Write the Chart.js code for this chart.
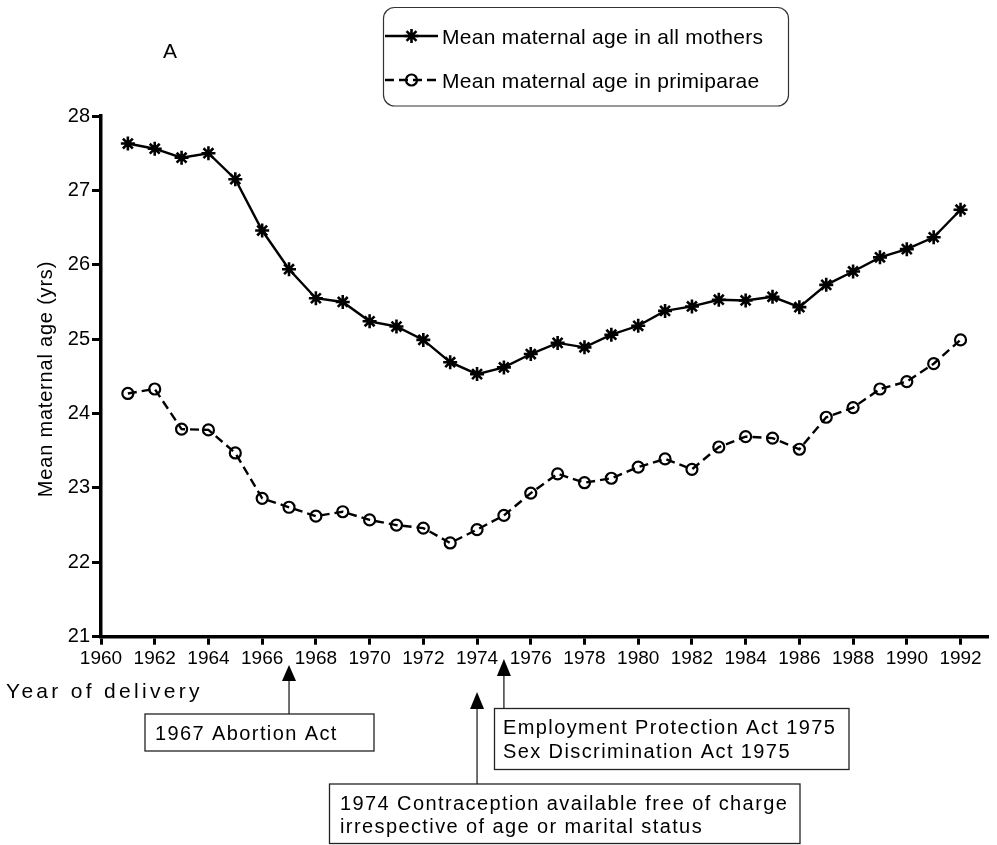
<!DOCTYPE html>
<html>
<head>
<meta charset="utf-8">
<script src="https://cdn.jsdelivr.net/npm/chart.js@4.4.1/dist/chart.umd.min.js"></script>
<style>
  html, body { margin: 0; padding: 0; background: #fff; }
  #wrap { width: 997px; height: 845px; }
</style>
</head>
<body>
<div id="wrap"><canvas id="myChart" width="997" height="845"></canvas></div>
<script>
// data (mean maternal age, years)
var years = [1961, 1962, 1963, 1964, 1965, 1966, 1967, 1968, 1969, 1970, 1971, 1972, 1973, 1974, 1975, 1976,
             1977, 1978, 1979, 1980, 1981, 1982, 1983, 1984, 1985, 1986, 1987, 1988, 1989, 1990, 1991, 1992];
var allMothers = [27.63, 27.56, 27.44, 27.50, 27.15, 26.46, 25.94, 25.55, 25.50, 25.24, 25.17, 24.99, 24.69, 24.53, 24.62, 24.80,
                  24.95, 24.89, 25.06, 25.18, 25.38, 25.44, 25.53, 25.52, 25.57, 25.43, 25.73, 25.91, 26.10, 26.21, 26.37, 26.74];
var primiparae = [24.27, 24.33, 23.79, 23.78, 23.47, 22.86, 22.74, 22.62, 22.68, 22.57, 22.50, 22.46, 22.26, 22.44, 22.63, 22.93,
                  23.19, 23.07, 23.13, 23.28, 23.39, 23.25, 23.55, 23.69, 23.67, 23.52, 23.95, 24.08, 24.33, 24.43, 24.67, 24.99];
var seriesNames = ['Mean maternal age in all mothers', 'Mean maternal age in primiparae'];
var xTicks = [1960, 1962, 1964, 1966, 1968, 1970, 1972, 1974, 1976, 1978, 1980, 1982, 1984, 1986, 1988, 1990, 1992];

// the events pointed at under the axis
var eventYears = [1967, 1974, 1975];
var eventTexts = [
  ['1967 Abortion Act'],
  ['1974 Contraception available free of charge', 'irrespective of age or marital status'],
  ['Employment Protection Act 1975', 'Sex Discrimination Act 1975']
];

var FONT = '"Liberation Sans", Arial, Helvetica, sans-serif';

function toPoints(vals) {
  return years.map(function (y, i) { return { x: y, y: vals[i] }; });
}

function textAt(ctx, str, x, y, size, spacing, align) {
  ctx.font = size + 'px ' + FONT;
  ctx.letterSpacing = (spacing || 0) + 'px';
  ctx.textAlign = align || 'left';
  ctx.textBaseline = 'alphabetic';
  ctx.fillText(str, x, y);
}

function arrow(ctx, x, tipY, baseY, endY) {
  ctx.beginPath();
  ctx.moveTo(x, baseY);
  ctx.lineTo(x, endY);
  ctx.lineWidth = 1.3;
  ctx.strokeStyle = '#222';
  ctx.stroke();
  ctx.beginPath();
  ctx.moveTo(x, tipY);
  ctx.lineTo(x - 7, baseY);
  ctx.lineTo(x + 7, baseY);
  ctx.closePath();
  ctx.fillStyle = '#000';
  ctx.fill();
}

function box(ctx, l, t, r, b) {
  ctx.lineWidth = 1.3;
  ctx.strokeStyle = '#222';
  ctx.strokeRect(l, t, r - l, b - t);
}

// legend, axis titles and the event boxes
const extrasPlugin = {
  id: 'extras',
  afterDraw(chart) {
    const ctx = chart.ctx;
    const xs = chart.scales.x;
    ctx.save();
    ctx.fillStyle = '#000';

    // panel letter
    textAt(ctx, 'A', 170, 58, 21, 0, 'center');

    // legend box
    ctx.beginPath();
    ctx.roundRect(383.5, 7.5, 405, 98.5, 11);
    ctx.lineWidth = 1.2;
    ctx.strokeStyle = '#333';
    ctx.stroke();
    var rows = [36, 80];
    chart.data.datasets.forEach(function (ds, i) {
      var y = rows[i];
      ctx.beginPath();
      ctx.setLineDash(ds.borderDash || []);
      ctx.moveTo(385, y);
      ctx.lineTo(438, y);
      ctx.lineWidth = ds.borderWidth;
      ctx.strokeStyle = '#000';
      ctx.stroke();
      ctx.setLineDash([]);
      ctx.lineWidth = ds.pointBorderWidth;
      ctx.fillStyle = ds.pointBackgroundColor;
      Chart.helpers.drawPoint(ctx, { pointStyle: ds.pointStyle, radius: ds.pointRadius, rotation: 0, borderWidth: ds.pointBorderWidth }, 411.5, y);
      ctx.fillStyle = '#000';
      textAt(ctx, ds.label, 442, y + 7.5, 21, 0.3);
    });

    // axis titles
    textAt(ctx, 'Year of delivery', 6, 698, 21, 3.3);
    ctx.save();
    ctx.translate(52, 379);
    ctx.rotate(-Math.PI / 2);
    textAt(ctx, 'Mean maternal age (yrs)', 0, 0, 20, 0.8, 'center');
    ctx.restore();

    // 1967
    arrow(ctx, xs.getPixelForValue(eventYears[0]), 665, 681, 714);
    box(ctx, 145, 714, 374, 751);
    textAt(ctx, eventTexts[0][0], 155, 740, 20, 1.4);

    // 1974
    arrow(ctx, xs.getPixelForValue(eventYears[1]), 692, 709, 784);
    box(ctx, 329.5, 784, 800, 843.5);
    textAt(ctx, eventTexts[1][0], 340, 810, 20, 1.4);
    textAt(ctx, eventTexts[1][1], 340, 833, 20, 1.4);

    // 1975
    arrow(ctx, xs.getPixelForValue(eventYears[2]), 659, 676, 708);
    box(ctx, 494.5, 708.5, 849, 769.5);
    textAt(ctx, eventTexts[2][0], 503, 734, 20, 1.4);
    textAt(ctx, eventTexts[2][1], 503, 757.5, 20, 1.4);

    ctx.restore();
  }
};

const data = {
  datasets: [{
    label: seriesNames[0],
    data: toPoints(allMothers),
    borderColor: '#000',
    borderWidth: 2.4,
    pointStyle: 'star',
    pointRadius: 7,
    pointBorderWidth: 2.6,
    pointBorderColor: '#000',
    pointBackgroundColor: '#000',
    tension: 0
  }, {
    label: seriesNames[1],
    data: toPoints(primiparae),
    borderColor: '#000',
    borderWidth: 2.4,
    borderDash: [9, 5],
    pointStyle: 'circle',
    pointRadius: 5.5,
    pointBorderWidth: 2.2,
    pointBorderColor: '#000',
    pointBackgroundColor: 'rgba(0,0,0,0)',
    tension: 0
  }]
};

const config = {
  type: 'line',
  data: data,
  plugins: [extrasPlugin],
  options: {
    responsive: false,
    animation: false,
    devicePixelRatio: 1,
    layout: { padding: { top: 116, right: 1, bottom: 0, left: 0 } },
    plugins: {
      legend: { display: false },
      tooltip: { enabled: false }
    },
    scales: {
      x: {
        type: 'linear',
        min: 1960,
        max: 1993,
        afterBuildTicks: function (scale) {
          scale.ticks = xTicks.map(function (v) { return { value: v }; });
        },
        afterFit: function (scale) { scale.height = 208.3; },
        grid: { drawOnChartArea: false, drawTicks: true, tickLength: 8, tickWidth: 3, tickColor: '#000', color: '#000', lineWidth: 3 },
        border: { display: true, color: '#000', width: 3.5 },
        ticks: {
          color: '#000',
          padding: 3,
          maxRotation: 0,
          autoSkip: false,
          font: { family: FONT, size: 19 },
          callback: function (v) { return String(v); }
        }
      },
      y: {
        min: 21,
        max: 28,
        afterFit: function (scale) { scale.width = 101; },
        grid: { drawOnChartArea: false, drawTicks: true, tickLength: 9, tickWidth: 3, tickColor: '#000', color: '#000', lineWidth: 3 },
        border: { display: true, color: '#000', width: 3.5 },
        ticks: {
          stepSize: 1,
          color: '#000',
          padding: 2,
          font: { family: FONT, size: 20 },
          callback: function (v) { return String(v); }
        }
      }
    }
  }
};

const myChart = new Chart(document.getElementById('myChart'), config);
</script>
</body>
</html>
